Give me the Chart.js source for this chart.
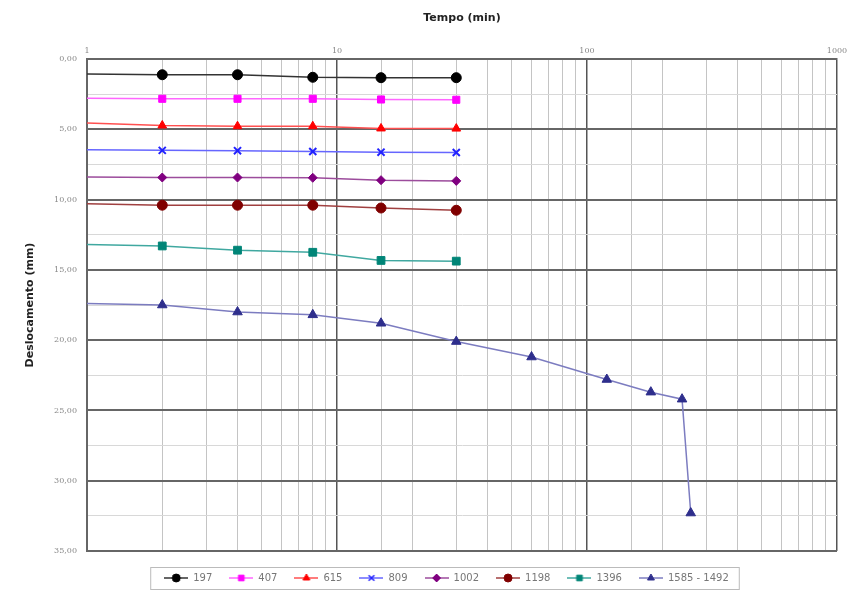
<!DOCTYPE html>
<html lang="pt">

<head>
    <meta charset="utf-8">
    <title>Deslocamento x Tempo</title>
    <script src="https://cdn.jsdelivr.net/npm/chart.js"></script>
    <style>
        html, body { margin: 0; padding: 0; background: #fff; }
        #chart { display: block; }
    </style>
</head>

<body>
    <canvas id="chart" width="861" height="590"></canvas>

    <script>
        // tempos (min) e deslocamentos (mm)
        const tempos = [1, 2, 4, 8, 15, 30];
        const temposLongo = [1, 2, 4, 8, 15, 30, 60, 120, 180, 240, 260];

        const d197 = [1.07, 1.12, 1.12, 1.30, 1.33, 1.33];
        const d407 = [2.80, 2.83, 2.83, 2.83, 2.88, 2.90];
        const d615 = [4.55, 4.73, 4.78, 4.78, 4.94, 4.95];
        const d809 = [6.45, 6.50, 6.52, 6.58, 6.63, 6.65];
        const d1002 = [8.40, 8.43, 8.43, 8.45, 8.62, 8.67];
        const d1198 = [10.30, 10.40, 10.40, 10.40, 10.60, 10.76];
        const d1396 = [13.20, 13.30, 13.60, 13.75, 14.33, 14.38];
        const d1585 = [17.40, 17.50, 18.00, 18.20, 18.80, 20.10, 21.20, 22.80, 23.70, 24.20, 32.30];

        const xTicks = [1, 10, 100, 1000];

        const series = [
            { label: '197', t: tempos, d: d197, line: '#333333', fill: '#000000', style: 'circle', r: 5 },
            { label: '407', t: tempos, d: d407, line: '#ff66ff', fill: '#ff00ff', style: 'rect', r: 5 },
            { label: '615', t: tempos, d: d615, line: '#ff5050', fill: '#ff0000', style: 'triangle', r: 5 },
            { label: '809', t: tempos, d: d809, line: '#6666ff', fill: '#2222ff', style: 'crossRot', r: 5 },
            { label: '1002', t: tempos, d: d1002, line: '#9c4c9c', fill: '#800080', style: 'rectRot', r: 4.5 },
            { label: '1198', t: tempos, d: d1198, line: '#a04040', fill: '#800000', style: 'circle', r: 5 },
            { label: '1396', t: tempos, d: d1396, line: '#40a8a0', fill: '#008577', style: 'rect', r: 5.5 },
            { label: '1585 - 1492', t: temposLongo, d: d1585, line: '#7c7cc0', fill: '#2e2e8c', style: 'triangle', r: 5.5 }
        ];

        // pequena imagem linha + marcador para a legenda
        const legendIcon = (s) => {
            const c = document.createElement('canvas');
            c.width = 24;
            c.height = 12;
            const g = c.getContext('2d');
            g.strokeStyle = s.line;
            g.lineWidth = 1.5;
            g.beginPath();
            g.moveTo(0, 6);
            g.lineTo(24, 6);
            g.stroke();
            g.fillStyle = s.fill;
            g.strokeStyle = s.fill;
            g.lineWidth = s.style === 'crossRot' ? 1.5 : 1;
            Chart.helpers.drawPoint(g, {
                pointStyle: s.style, radius: 4, rotation: 0, borderWidth: g.lineWidth
            }, 12, 6);
            return c;
        };

        const datasets = series.map((s) => ({
            label: s.label,
            data: s.t.map((t, i) => ({ x: t, y: s.d[i] })),
            showLine: true,
            borderColor: s.line,
            borderWidth: 1.5,
            backgroundColor: s.fill,
            pointBackgroundColor: s.fill,
            pointBorderColor: s.fill,
            pointBorderWidth: s.style === 'crossRot' ? 2 : 1,
            pointStyle: s.style,
            pointRadius: s.t.map((t) => (t === 1 ? 0 : s.r)),
            icon: legendIcon(s)
        }));

        // desloca a legenda (como no original) e desenha a moldura
        const legendBox = {
            id: 'legendBox',
            afterLayout(chart) {
                const lg = chart.legend;
                lg.left += 28;
                lg.right += 28;
                lg.top += 5;
                lg.bottom += 5;
            },
            afterDraw(chart) {
                const boxes = chart.legend.legendHitBoxes;
                if (!boxes || !boxes.length) return;
                const left = boxes[0].left - 14;
                const last = boxes[boxes.length - 1];
                const right = last.left + last.width + 10;
                const top = boxes[0].top - 6;
                const bottom = boxes[0].top + boxes[0].height + 6;
                const ctx = chart.ctx;
                ctx.save();
                ctx.strokeStyle = '#bbbbbb';
                ctx.lineWidth = 1;
                ctx.strokeRect(left + 0.5, top + 0.5, right - left, bottom - top);
                ctx.restore();
            }
        };

        const isPow10 = (v) => Math.abs(Math.log10(v) - Math.round(Math.log10(v))) < 1e-9;

        new Chart(document.getElementById('chart'), {
            type: 'scatter',
            data: { datasets },
            plugins: [legendBox],
            options: {
                responsive: false,
                animation: false,
                layout: { padding: { left: 0, right: 24, top: 6, bottom: 2 } },
                plugins: {
                    tooltip: { enabled: false },
                    legend: {
                        position: 'bottom',
                        labels: {
                            usePointStyle: true,
                            pointStyleWidth: 24,
                            boxHeight: 10,
                            padding: 17,
                            color: '#777777',
                            font: { family: 'DejaVu Sans', size: 10 },
                            generateLabels: (chart) => chart.data.datasets.map((ds, i) => ({
                                text: ds.label,
                                pointStyle: ds.icon,
                                fillStyle: ds.backgroundColor,
                                strokeStyle: ds.borderColor,
                                lineWidth: 0,
                                hidden: false,
                                datasetIndex: i,
                                fontColor: '#777777'
                            }))
                        }
                    }
                },
                scales: {
                    x: {
                        type: 'logarithmic',
                        position: 'top',
                        min: 1,
                        max: 1000,
                        title: {
                            display: true,
                            text: 'Tempo (min)',
                            color: '#222222',
                            font: { family: 'DejaVu Sans', size: 11, weight: 'bold' },
                            padding: { top: 6, bottom: 4 }
                        },
                        ticks: {
                            autoSkip: false,
                            maxRotation: 0,
                            color: '#888888',
                            padding: 3,
                            font: { family: 'DejaVu Serif', size: 8 },
                            callback: (v) => (xTicks.includes(v) ? String(v) : '')
                        },
                        border: { color: '#666666', width: 2 },
                        grid: {
                            drawTicks: false,
                            color: (c) => (c.tick && isPow10(c.tick.value) ? '#555555' : '#c4c4c4'),
                            lineWidth: (c) => (c.tick && isPow10(c.tick.value) ? 1.5 : 1)
                        },
                        afterFit: (scale) => { scale.height = 53; }
                    },
                    y: {
                        reverse: true,
                        min: 0,
                        max: 35,
                        title: {
                            display: true,
                            text: 'Deslocamento (mm)',
                            color: '#222222',
                            font: { family: 'DejaVu Sans', size: 11, weight: 'bold' },
                            padding: { top: 24, bottom: 4 }
                        },
                        ticks: {
                            stepSize: 2.5,
                            color: '#888888',
                            padding: 10,
                            font: { family: 'DejaVu Serif', size: 8 },
                            callback: (v) => (v % 5 === 0 ? v.toFixed(2).replace('.', ',') : '')
                        },
                        border: { color: '#666666', width: 2 },
                        grid: {
                            drawTicks: false,
                            color: (c) => (c.tick && c.tick.value % 5 === 0 ? '#666666' : '#d8d8d8'),
                            lineWidth: (c) => (c.tick && c.tick.value % 5 === 0 ? 2 : 1)
                        },
                        afterFit: (scale) => { scale.width = 87; }
                    }
                }
            }
        });
    </script>
</body>

</html>
